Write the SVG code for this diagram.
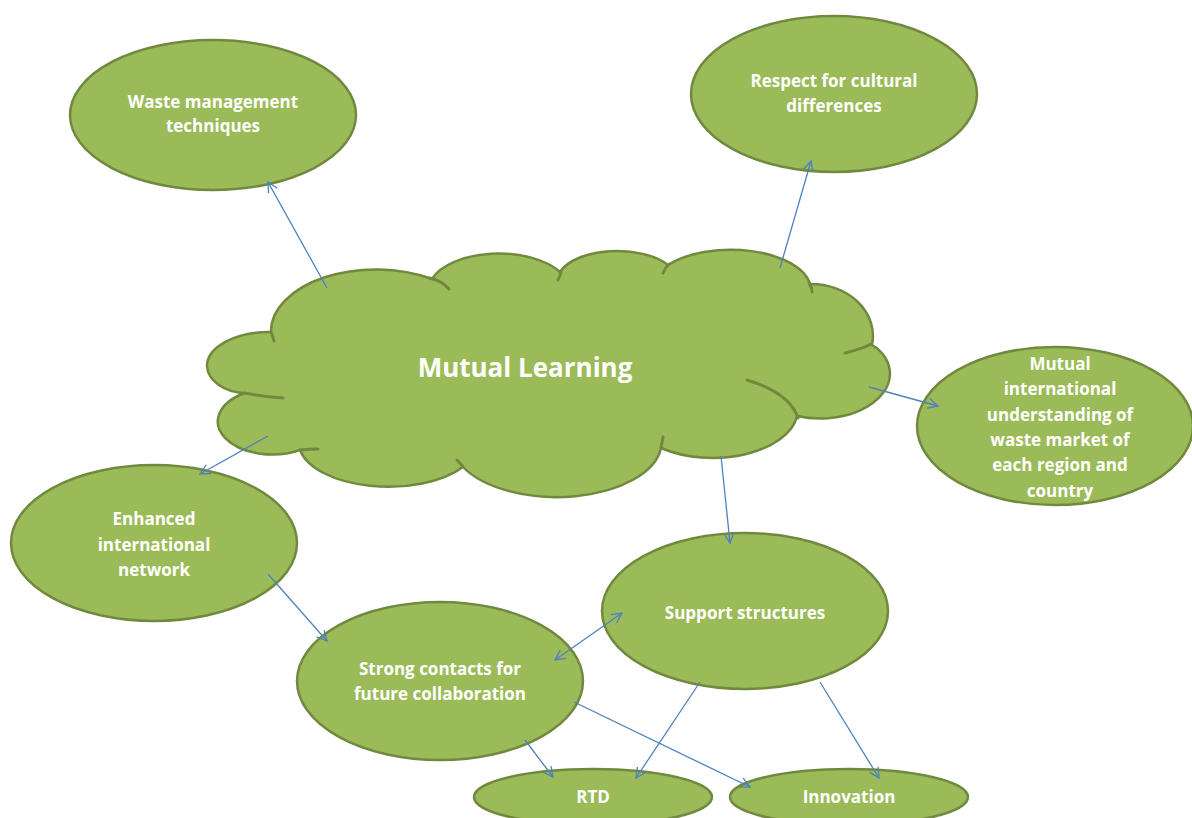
<svg xmlns="http://www.w3.org/2000/svg" width="1192" height="818" viewBox="0 0 1192 818">
  <style>
    .node { fill: #9BBB59; stroke: #71893F; stroke-width: 2.5; }
    .tail { fill: none; stroke: #71893F; stroke-width: 3; stroke-linecap: round; }
    .label { fill: #FFFFFF; font-family: "Open Sans", "Liberation Sans", sans-serif; font-weight: 700; font-size: 17px; text-anchor: middle; }
    .title { font-size: 26px; }
    .link { stroke: #4F81BD; stroke-width: 1.3; fill: none; }
  </style>
  <defs>
    <marker id="head" viewBox="0 0 12 12" refX="11" refY="6" markerWidth="12" markerHeight="12" markerUnits="userSpaceOnUse" orient="auto-start-reverse">
      <path d="M1,1 L11,6 L1,11" fill="none" stroke="#4F81BD" stroke-width="1.3"/>
    </marker>
  </defs>
  <rect width="1192" height="818" fill="#FFFFFF"/>

  <!-- central cloud -->
  <g id="mutual-learning">
    <path class="node" stroke-width="3" d="M 271 332 A 105 62 0 0 1 432 279 A 70 36 0 0 1 560 272 A 60 30 0 0 1 668 265 A 80 40 0 0 1 810 284 A 62 52 0 0 1 872 345 A 40 35 0 0 1 890 374 A 70 45 0 0 1 797 416 A 85 48 0 0 1 661 448 A 105 55 0 0 1 463 467 A 90 45 0 0 1 300 450 A 53 32 0 1 1 245 393 A 40 28 0 0 1 207 366 A 62 34 0 0 1 271 332 Z"/>
    <path class="tail" d="M 430 278 Q 442 281 449 289"/>
    <path class="tail" d="M 561 272 Q 560 276 558 280"/>
    <path class="tail" d="M 669 264 Q 665 268 663 273"/>
    <path class="tail" d="M 809 283 Q 812 287 812 292"/>
    <path class="tail" d="M 871 344 Q 862 349 845 353"/>
    <path class="tail" d="M 747 380 Q 790 393 798 418"/>
    <path class="tail" d="M 661 448 Q 662 443 663 437"/>
    <path class="tail" d="M 463 467 Q 460 463 457 460"/>
    <path class="tail" d="M 300 450 Q 310 449 318 449"/>
    <path class="tail" d="M 245 393 Q 265 397 283 398"/>
    <path class="tail" d="M 271 332 Q 273 337 274 341"/>
    <text class="label title" x="525" y="377">Mutual Learning</text>
  </g>

  <g id="waste-management">
    <ellipse class="node" cx="213" cy="115" rx="143" ry="75"/>
    <text class="label" x="213" y="108">Waste management</text>
    <text class="label" x="213" y="132">techniques</text>
  </g>

  <g id="cultural-differences">
    <ellipse class="node" cx="834" cy="94" rx="143" ry="78"/>
    <text class="label" x="834" y="87">Respect for cultural</text>
    <text class="label" x="834" y="112">differences</text>
  </g>

  <g id="market-understanding">
    <ellipse class="node" cx="1055" cy="426" rx="138" ry="79"/>
    <text class="label" x="1060" y="370">Mutual</text>
    <text class="label" x="1060" y="395">international</text>
    <text class="label" x="1060" y="421">understanding of</text>
    <text class="label" x="1060" y="446">waste market of</text>
    <text class="label" x="1060" y="471">each region and</text>
    <text class="label" x="1060" y="497">country</text>
  </g>

  <g id="international-network">
    <ellipse class="node" cx="154" cy="543" rx="143" ry="78"/>
    <text class="label" x="154" y="525">Enhanced</text>
    <text class="label" x="154" y="551">international</text>
    <text class="label" x="154" y="576">network</text>
  </g>

  <g id="support-structures">
    <ellipse class="node" cx="745" cy="611" rx="143" ry="78"/>
    <text class="label" x="745" y="619">Support structures</text>
  </g>

  <g id="strong-contacts">
    <ellipse class="node" cx="440" cy="681" rx="143" ry="79"/>
    <text class="label" x="440" y="675">Strong contacts for</text>
    <text class="label" x="440" y="700">future collaboration</text>
  </g>

  <g id="rtd">
    <ellipse class="node" cx="593" cy="797" rx="119" ry="28"/>
    <text class="label" x="593" y="803">RTD</text>
  </g>

  <g id="innovation">
    <ellipse class="node" cx="849" cy="797" rx="119" ry="28"/>
    <text class="label" x="849" y="803">Innovation</text>
  </g>

  <g id="connectors">
    <line class="link" x1="327" y1="288" x2="268" y2="182" marker-end="url(#head)"/>
    <line class="link" x1="780" y1="268" x2="811" y2="161" marker-end="url(#head)"/>
    <line class="link" x1="869" y1="387" x2="938" y2="406" marker-end="url(#head)"/>
    <line class="link" x1="268" y1="436" x2="200" y2="474" marker-end="url(#head)"/>
    <line class="link" x1="721" y1="456" x2="730" y2="543" marker-end="url(#head)"/>
    <line class="link" x1="268" y1="574" x2="327" y2="641" marker-end="url(#head)"/>
    <line class="link" x1="555" y1="660" x2="622" y2="613" marker-start="url(#head)" marker-end="url(#head)"/>
    <line class="link" x1="525" y1="740" x2="553" y2="777" marker-end="url(#head)"/>
    <line class="link" x1="700" y1="682" x2="636" y2="778" marker-end="url(#head)"/>
    <line class="link" x1="574" y1="702" x2="750" y2="787" marker-end="url(#head)"/>
    <line class="link" x1="820" y1="682" x2="879" y2="778" marker-end="url(#head)"/>
  </g>
</svg>
